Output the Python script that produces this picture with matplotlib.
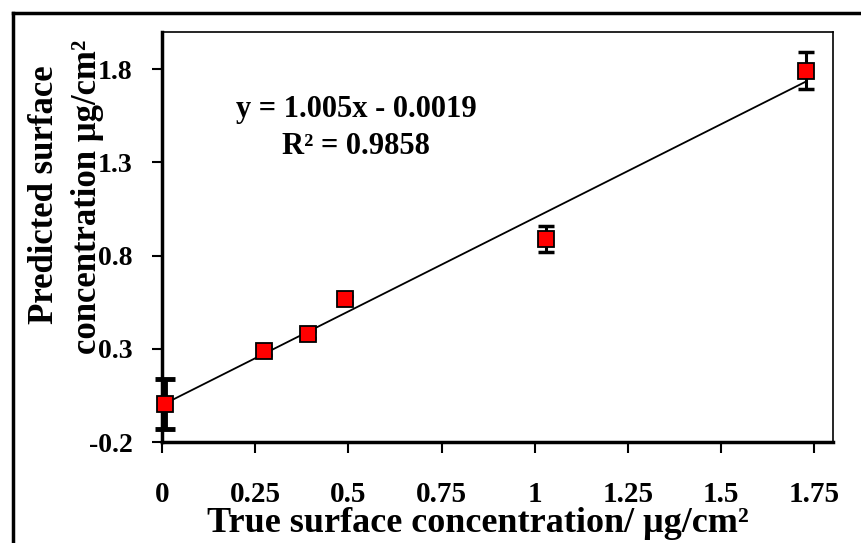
import matplotlib
matplotlib.use("Agg")
import matplotlib.pyplot as plt
from matplotlib.lines import Line2D
import numpy as np

# data
true_conc = [0.008, 0.273, 0.392, 0.49, 1.03, 1.727]
pred_conc = [0.005, 0.288, 0.378, 0.565, 0.889, 1.793]
pred_err = [0.135, 0.02, 0.02, 0.02, 0.07, 0.10]
slope = 1.005
intercept = -0.0019
x_ticks = [0, 0.25, 0.5, 0.75, 1, 1.25, 1.5, 1.75]
x_tick_labels = ["0", "0.25", "0.5", "0.75", "1", "1.25", "1.5", "1.75"]
y_ticks = [-0.2, 0.3, 0.8, 1.3, 1.8]
y_tick_labels = ["-0.2", "0.3", "0.8", "1.3", "1.8"]

plt.rcParams['font.family'] = ['Liberation Serif', 'DejaVu Serif']
plt.rcParams['font.weight'] = 'bold'

fig = plt.figure(figsize=(8.61, 5.43), dpi=100, facecolor='white')
W, H = 861, 543
ax = fig.add_axes([162 / W, 1 - 442 / H, (833 - 162) / W, (442 - 32) / H])

# outer frame (cut off at right and bottom)
fig.add_artist(Line2D([13 / W, 1.0], [1 - 13 / H, 1 - 13 / H], color='black', lw=2.5,
                      transform=fig.transFigure))
fig.add_artist(Line2D([13 / W, 13 / W], [1 - 13 / H, 0], color='black', lw=2.5,
                      transform=fig.transFigure))

# trend line
xs = np.array([true_conc[0], true_conc[-1]])
ax.plot(xs, slope * xs + intercept, color='black', lw=1.3, zorder=2)

# error bars: first point drawn heavier
eb1 = ax.errorbar(true_conc[:1], pred_conc[:1], yerr=pred_err[:1], fmt='none', ecolor='black',
                  elinewidth=3.5, capsize=7, capthick=3.5, zorder=3)
eb2 = ax.errorbar(true_conc[1:], pred_conc[1:], yerr=pred_err[1:], fmt='none', ecolor='black',
                  elinewidth=2.2, capsize=6, capthick=2.5, zorder=3)
for eb in (eb1, eb2):
    for art in eb.get_children():
        art.set_clip_on(False)
ax.plot(true_conc, pred_conc, 's', color='#ff0000', markeredgecolor='black',
        markeredgewidth=1.3, markersize=11.5, zorder=4, clip_on=False)

ax.set_xlim(0, 1.8)
ax.set_ylim(-0.2, 2.0)
ax.set_xticks(x_ticks)
ax.set_xticklabels(x_tick_labels)
ax.set_yticks(y_ticks)
ax.set_yticklabels(y_tick_labels)
ax.tick_params(axis='x', direction='out', length=8, width=1.5, pad=20, labelsize=21)
ax.tick_params(axis='y', direction='out', length=7, width=1.5, pad=14, labelsize=20)
for lab in ax.get_xticklabels() + ax.get_yticklabels():
    lab.set_fontweight('bold')

ax.spines['left'].set_linewidth(2.5)
ax.spines['bottom'].set_linewidth(2.5)
ax.spines['top'].set_linewidth(1.2)
ax.spines['right'].set_linewidth(1.2)

ax.text(0.289, 0.81, "y = 1.005x - 0.0019", transform=ax.transAxes, ha='center',
        va='center', fontsize=22, fontweight='bold')
ax.text(0.289, 0.72, "R\u00b2 = 0.9858", transform=ax.transAxes, ha='center',
        va='center', fontsize=22, fontweight='bold')

fig.text(478 / W, 1 - 524 / H, "True surface concentration/ \u03bcg/cm\u00b2", ha='center',
         va='center', fontsize=26, fontweight='bold')
fig.text(45 / W, 1 - 195 / H, "Predicted surface", ha='center', va='center',
         rotation=90, fontsize=25, fontweight='bold')
fig.text(88 / W, 1 - 197 / H, "concentration \u03bcg/cm\u00b2", ha='center', va='center',
         rotation=90, fontsize=25, fontweight='bold')

fig.savefig("out.png", dpi=100, facecolor='white')
